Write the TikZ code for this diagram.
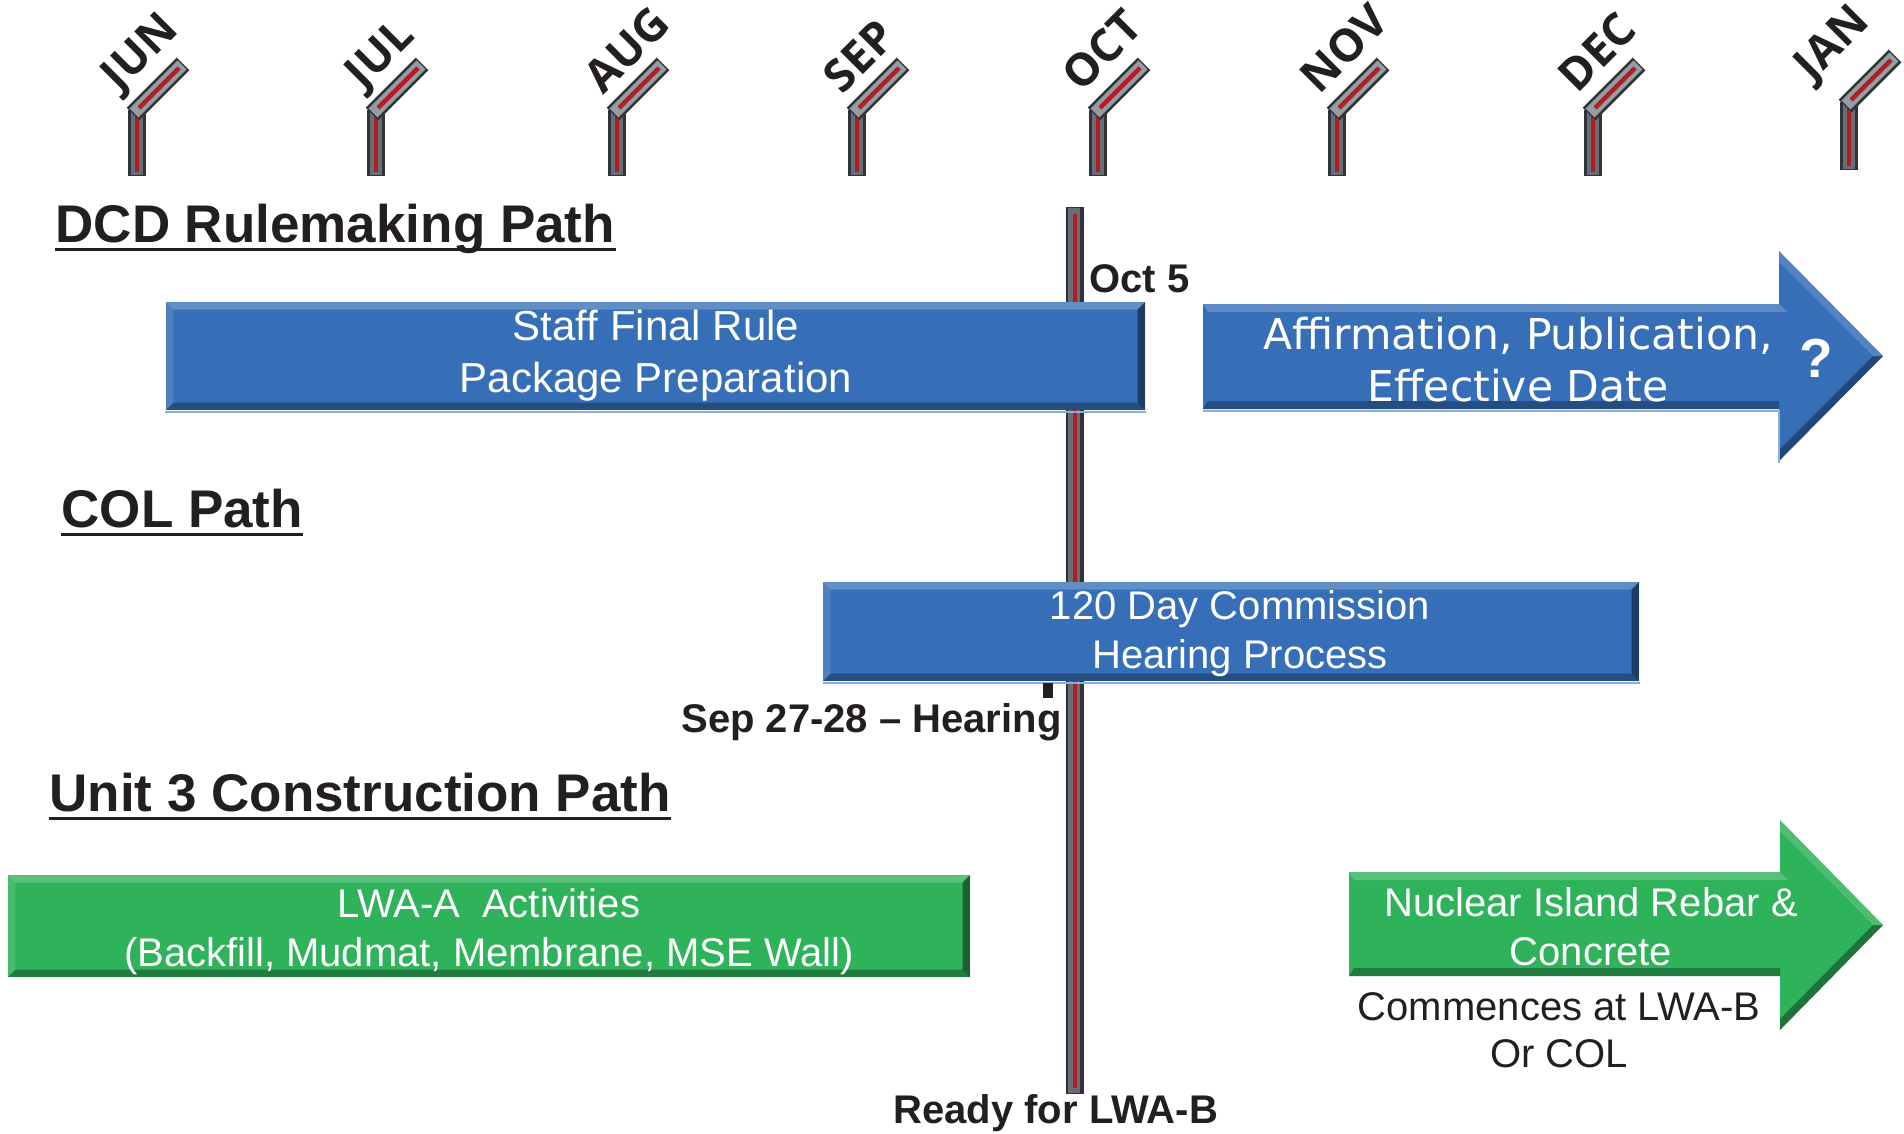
\documentclass[tikz,border=0pt]{standalone}
\usepackage{fontspec}
\setmainfont{Liberation Sans}
\newfontfamily\dejavu{DejaVu Sans}
\newfontfamily\opensans{Open Sans}
\definecolor{boxblue}{RGB}{54,111,183}
\definecolor{boxgreen}{RGB}{46,178,90}
\definecolor{roddark}{RGB}{48,52,58}
\definecolor{rodgray}{RGB}{104,110,118}
\definecolor{rodsilver}{RGB}{150,156,164}
\definecolor{rodred}{RGB}{180,28,36}
\definecolor{txt}{RGB}{35,31,32}
\definecolor{edgeblue}{RGB}{140,175,215}
\definecolor{edgegreen}{RGB}{120,200,140}
\begin{document}
\begin{tikzpicture}[x=0.4pt,y=-0.4pt,
  rodA/.style={line width=7.2pt,draw=roddark,line cap=butt},
  rodB/.style={line width=5pt,draw=rodgray,line cap=butt},
  rodS/.style={line width=5pt,draw=rodsilver,line cap=butt},
  rodR/.style={line width=1.8pt,draw=rodred,line cap=butt},
  month/.style={font=\opensans\bfseries\fontsize{18}{20}\selectfont,text=txt,rotate=45,inner sep=0pt},
  heading/.style={font=\bfseries\fontsize{21.2}{24}\selectfont,text=txt,inner sep=0pt,anchor=base west},
  lbl/.style={font=\bfseries\fontsize{16}{19}\selectfont,text=txt,inner sep=0pt},
  boxtext/.style={font=\fontsize{16}{19.5}\selectfont,text=white,align=center,inner sep=0pt},
  bevel/.style={path picture={
    \fill[white,opacity=.22] (path picture bounding box.north west) -- (path picture bounding box.north east) -- ([xshift=-3pt,yshift=-3pt]path picture bounding box.north east) -- ([xshift=3pt,yshift=-3pt]path picture bounding box.north west) -- cycle;
    \fill[black,opacity=.3] (path picture bounding box.south west) -- (path picture bounding box.south east) -- ([xshift=-3pt,yshift=3pt]path picture bounding box.south east) -- ([xshift=3pt,yshift=3pt]path picture bounding box.south west) -- cycle;
    \fill[black,opacity=.45] (path picture bounding box.north east) -- (path picture bounding box.south east) -- ([xshift=-3pt,yshift=3pt]path picture bounding box.south east) -- ([xshift=-3pt,yshift=-3pt]path picture bounding box.north east) -- cycle;
    \fill[white,opacity=.12] (path picture bounding box.north west) -- (path picture bounding box.south west) -- ([xshift=3pt,yshift=3pt]path picture bounding box.south west) -- ([xshift=3pt,yshift=-3pt]path picture bounding box.north west) -- cycle;
  }},
  bar/.style={rectangle,inner sep=0pt,bevel}
]
\useasboundingbox (0,0) rectangle (1904,1133);

% month markers
\foreach \x/\t/\b/\lx/\ly/\m in {137/110/176/142/54/JUN,376/110/176/382/56/JUL,617/110/176/627/50/AUG,857/110/176/859/56/SEP,1098/110/176/1102/50/OCT,1337/110/176/1344/48/NOV,1593/110/176/1597/52/DEC,1849/102/170/1834/45/JAN}{
  \draw[rodA] (\x,\b) -- (\x,\t);
  \draw[rodB] (\x,\b-1) -- (\x,\t);
  \draw[rodR] (\x,\b-4) -- (\x,\t+4);
  \draw[rodA] (\x-4,\t+4) -- (\x+46,\t-46);
  \draw[rodS] (\x-3,\t+3) -- (\x+45,\t-45);
  \draw[rodR] (\x+2,\t-2) -- (\x+42,\t-42);
  \node[month] (m\m) at (\lx,\ly) {\m};
}

% central October line
\draw[line width=7pt,draw=roddark,line cap=butt] (1075,207) -- (1075,1094);
\draw[line width=5pt,draw=rodgray,line cap=butt] (1074,208) -- (1074,1093);
\draw[rodR] (1075,214) -- (1075,1088);

% headings
\node[heading] (hdcd) at (55,242) {DCD Rulemaking Path};
\draw[line width=1.4pt,txt] ([yshift=-3pt]hdcd.base west) -- ([yshift=-3pt]hdcd.base east);
\node[heading] (hcol) at (61,527) {COL Path};
\draw[line width=1.4pt,txt] ([yshift=-3pt]hcol.base west) -- ([yshift=-3pt]hcol.base east);
\node[heading] (hunit) at (49,811) {Unit 3 Construction Path};
\draw[line width=1.4pt,txt] ([yshift=-3pt]hunit.base west) -- ([yshift=-3pt]hunit.base east);

% DCD path
\node[bar,fill=boxblue,minimum width=391.6pt,minimum height=43.2pt] (staff) at (655.5,356) {};
\node[boxtext,font=\fontsize{16.8}{20.8}\selectfont] (stafftext) at (656,356) {Staff Final Rule\\Package Preparation};
\draw[edgeblue,line width=1pt] ([yshift=-0.6pt]staff.south west) -- ([yshift=-0.6pt]staff.south east);
\node[lbl,anchor=base west] (oct5) at (1089,292) {Oct 5};

\fill[boxblue] (1203,304) -- (1779,304) -- (1779,251) -- (1883,356) -- (1779,461) -- (1779,409) -- (1203,409) -- cycle;
\fill[white,opacity=.2] (1203,304) -- (1779,304) -- (1787,312) -- (1208,312) -- cycle;
\fill[black,opacity=.3] (1203,409) -- (1779,409) -- (1779,401) -- (1208,401) -- cycle;
\fill[black,opacity=.35] (1883,356) -- (1779,461) -- (1779,450) -- (1873,356) -- cycle;
\fill[white,opacity=.15] (1883,356) -- (1779,251) -- (1779,262) -- (1873,356) -- cycle;
\draw[edgeblue,line width=1pt] (1203,411) -- (1779,411) -- (1779,463);
\node[font=\dejavu\fontsize{17}{20.8}\selectfont,text=white,align=center,inner sep=0pt] (affirm) at (1518,360) {Affirmation, Publication,\\Effective Date};
\node[font=\bfseries\fontsize{22}{24}\selectfont,text=white,inner sep=0pt] (qmark) at (1816,358) {?};

% COL path
\node[bar,fill=boxblue,minimum width=326.4pt,minimum height=39.6pt] (hearing) at (1231,631.5) {};
\node[boxtext] (hearingtext) at (1240,634) {120 Day Commission\\Hearing Process};
\draw[edgeblue,line width=1pt] ([yshift=-0.6pt]hearing.south west) -- ([yshift=-0.6pt]hearing.south east);
\fill[txt] (1043,683) rectangle (1053,698);
\node[lbl,anchor=base east] (sep) at (1062,732) {Sep 27-28 -- Hearing};

% Construction path
\node[bar,fill=boxgreen,minimum width=384.8pt,minimum height=40.8pt] (lwaa) at (489,926) {};
\node[boxtext] (lwaatext) at (489,932) {LWA-A\ \ Activities\\(Backfill, Mudmat, Membrane, MSE Wall)};

\fill[boxgreen] (1349,872) -- (1780,872) -- (1780,820) -- (1883,925) -- (1780,1030) -- (1780,976) -- (1349,976) -- cycle;
\fill[white,opacity=.2] (1349,872) -- (1780,872) -- (1788,880) -- (1354,880) -- cycle;
\fill[black,opacity=.3] (1349,976) -- (1780,976) -- (1780,968) -- (1354,968) -- cycle;
\fill[black,opacity=.35] (1883,925) -- (1780,1030) -- (1780,1019) -- (1873,925) -- cycle;
\fill[white,opacity=.15] (1883,925) -- (1780,820) -- (1780,831) -- (1873,925) -- cycle;
\node[boxtext] (nuclear) at (1591,927) {Nuclear Island Rebar \&\\Concrete};
\node[font=\fontsize{16}{19}\selectfont,text=txt,align=center,inner sep=0pt] (commence) at (1559,1030) {Commences at LWA-B\\Or COL};

\node[lbl,anchor=base west] (ready) at (893,1123) {Ready for LWA-B};
\end{tikzpicture}
\end{document}
